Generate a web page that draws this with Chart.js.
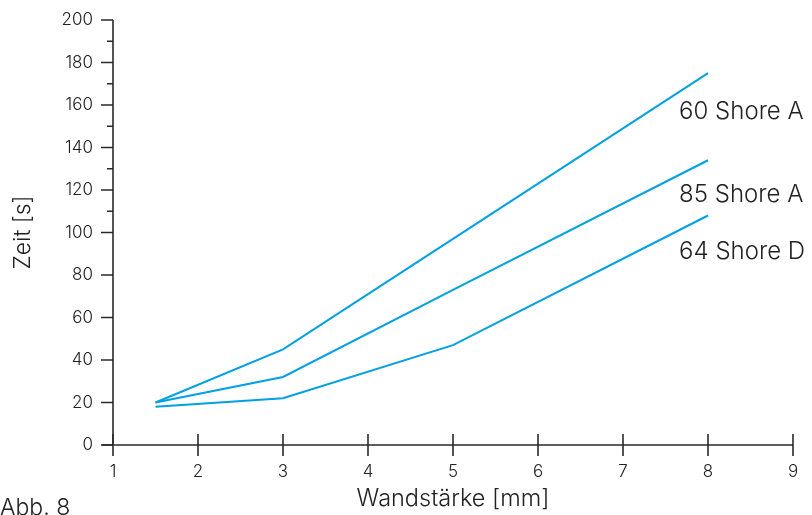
<!DOCTYPE html>
<html>
<head>
<meta charset="utf-8">
<script src="https://cdn.jsdelivr.net/npm/chart.js@4/dist/chart.umd.min.js"></script>
<style>
  html, body { margin: 0; padding: 0; background: #fff; }
  #wrap { width: 812px; height: 515px; }
</style>
</head>
<body>
<div id="wrap"><canvas id="chart" width="812" height="515"></canvas></div>
<script>
// Daten
const wandstaerke = [1.5, 3, 5, 8];
const shore60A = [20, 45, 97, 175];
const shore85A = [20, 32, 73, 134];
const shore64D = [18, 22, 47, 108];

const seriesNames = ["60 Shore A", "85 Shore A", "64 Shore D"];
// Position der Beschriftungen in Datenwerten (x, y)
const labelX = [7.66, 7.66, 7.66];
const labelY = [157, 117.6, 91];

const xTicks = [1, 2, 3, 4, 5, 6, 7, 8, 9];
const yTicks = [0, 20, 40, 60, 80, 100, 120, 140, 160, 180, 200];
const yMinorTicks = [110, 130, 150, 170, 190];

const lineColor = "rgb(0, 160, 227)";
const textColor = "#222";
const fontFamily = "Inter, 'Liberation Sans', sans-serif";

const toPoints = ys => ys.map((y, i) => ({ x: wandstaerke[i], y }));

// Achsen, Striche und Beschriftungen
const axisPlugin = {
  id: "axisPlugin",
  afterDraw(chart) {
    const { ctx, scales } = chart;
    const xs = scales.x, ys = scales.y;
    const x0 = xs.getPixelForValue(1);
    const y0 = ys.getPixelForValue(0);
    ctx.save();
    ctx.strokeStyle = "#2a2a2a";
    ctx.lineWidth = 1.6;
    ctx.beginPath();
    // y-Achse
    ctx.moveTo(x0, ys.getPixelForValue(200));
    ctx.lineTo(x0, y0);
    // x-Achse
    ctx.moveTo(x0 - 11, y0);
    ctx.lineTo(xs.getPixelForValue(9), y0);
    ctx.stroke();

    ctx.beginPath();
    yTicks.forEach(v => {
      const p = ys.getPixelForValue(v);
      ctx.moveTo(x0 - 12, p);
      ctx.lineTo(x0, p);
    });
    yMinorTicks.forEach(v => {
      const p = ys.getPixelForValue(v);
      ctx.moveTo(x0 - 6, p);
      ctx.lineTo(x0, p);
    });
    xTicks.forEach(v => {
      const p = xs.getPixelForValue(v);
      ctx.moveTo(p, y0 - 11);
      ctx.lineTo(p, y0 + 11);
    });
    ctx.stroke();

    // Kurvenbeschriftungen
    ctx.fillStyle = textColor;
    ctx.font = "300 24px " + fontFamily;
    ctx.textBaseline = "middle";
    ctx.textAlign = "left";
    seriesNames.forEach((name, i) => {
      ctx.fillText(name, xs.getPixelForValue(labelX[i]), ys.getPixelForValue(labelY[i]));
    });

    ctx.font = "300 23px " + fontFamily;
    ctx.fillText("Abb. 8", 0, 508);
    ctx.restore();
  }
};

new Chart(document.getElementById("chart"), {
  type: "scatter",
  data: {
    datasets: [
      { label: seriesNames[0], data: toPoints(shore60A) },
      { label: seriesNames[1], data: toPoints(shore85A) },
      { label: seriesNames[2], data: toPoints(shore64D) }
    ].map(ds => ({
      ...ds,
      showLine: true,
      borderColor: lineColor,
      backgroundColor: lineColor,
      borderWidth: 2,
      pointRadius: 0,
      tension: 0
    }))
  },
  options: {
    responsive: false,
    animation: false,
    devicePixelRatio: 1,
    layout: { padding: { left: 0, right: 19, top: 20, bottom: 0 } },
    plugins: { legend: { display: false }, tooltip: { enabled: false } },
    scales: {
      x: {
        type: "linear",
        min: 1,
        max: 9,
        afterFit: s => {
          s.height = 70;
          s.paddingLeft = 0;
          s.paddingRight = 0;
        },
        afterBuildTicks: s => { s.ticks = xTicks.map(v => ({ value: v })); },
        grid: { display: false, drawTicks: false },
        border: { display: false },
        ticks: {
          color: textColor,
          padding: 17,
          font: { family: fontFamily, size: 17, weight: 300 }
        },
        title: {
          display: true,
          text: "Wandstärke [mm]",
          color: textColor,
          padding: { top: 0, bottom: 2 },
          font: { family: fontFamily, size: 23.5, weight: 300, lineHeight: 1.2 }
        }
      },
      y: {
        type: "linear",
        min: 0,
        max: 200,
        afterFit: s => {
          s.width = 113;
          s.paddingTop = 0;
          s.paddingBottom = 0;
        },
        afterBuildTicks: s => { s.ticks = yTicks.map(v => ({ value: v })); },
        grid: { display: false, drawTicks: false },
        border: { display: false },
        ticks: {
          color: textColor,
          padding: 20,
          font: { family: fontFamily, size: 17, weight: 300 }
        },
        title: {
          display: true,
          text: "Zeit [s]",
          color: textColor,
          padding: { top: 9, bottom: 0 },
          font: { family: fontFamily, size: 23, weight: 300, lineHeight: 1.2 }
        }
      }
    }
  },
  plugins: [axisPlugin]
});
</script>
</body>
</html>
